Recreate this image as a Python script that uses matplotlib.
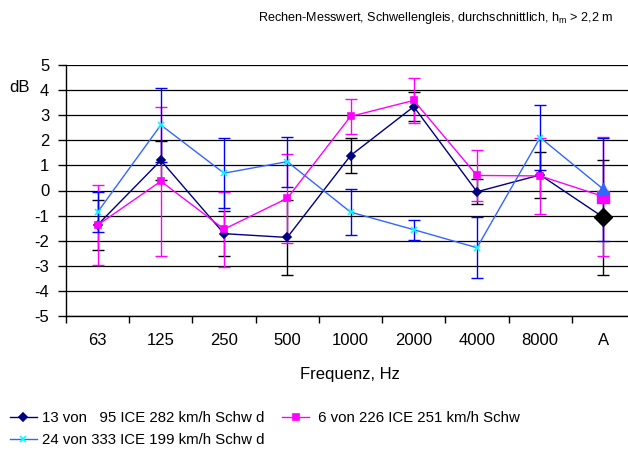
import numpy as np
import matplotlib
matplotlib.use('agg')
import matplotlib.pyplot as plt
from matplotlib.ticker import FixedLocator

plt.rcParams['font.family'] = ['Liberation Sans', 'DejaVu Sans']
plt.rcParams['font.size'] = 10
plt.rcParams['axes.unicode_minus'] = False

# frequency bands and the three measured series (mean and spread)
categories = ['63', '125', '250', '500', '1000', '2000', '4000', '8000', 'A']
ice282 = [-1.37, 1.2, -1.72, -1.87, 1.39, 3.34, -0.05, 0.62, -1.07]
ice282_err = [1.0, 0.79, 0.89, 1.49, 0.7, 0.57, 0.5, 0.91, 2.28]
ice251 = [-1.38, 0.37, -1.54, -0.31, 2.95, 3.59, 0.6, 0.58, -0.24]
ice251_err = [1.6, 2.97, 1.49, 1.78, 0.7, 0.9, 1.02, 1.51, 2.37]
ice199 = [-0.86, 2.61, 0.69, 1.15, -0.86, -1.56, -2.28, 2.11, 0.05]
ice199_err = [0.81, 1.48, 1.4, 1.0, 0.9, 0.4, 1.21, 1.31, 2.05]

labels = ['13 von   95 ICE 282 km/h Schw d',
          ' 6 von 226 ICE 251 km/h Schw',
          '24 von 333 ICE 199 km/h Schw d']

fig = plt.figure(figsize=(6.28, 4.53), dpi=100)
ax = fig.add_axes([66 / 628, 137 / 453, 569 / 628, 251 / 453])

x = np.arange(len(categories))
n = len(categories) - 1  # last point (A-weighted) gets a bigger marker

series = [
    # values, errors, line colour, marker, marker colour, err colour, big marker, big colour, size
    (ice282, ice282_err, '#000080', 'D', '#000080', 'black', 'D', 'black', 4.5),
    (ice251, ice251_err, '#FF00FF', 's', '#FF00FF', '#FF00FF', 's', '#FF00FF', 4.5),
    (ice199, ice199_err, '#3366FF', 'x', '#00FFFF', '#0000FF', '^', '#3366FF', 5),
]

handles = []
for vals, errs, lc, mk, mc, ec, bmk, bmc, ms in series:
    ax.errorbar(x, vals, yerr=errs, fmt='none', ecolor=ec, elinewidth=1,
                capsize=4, capthick=1, zorder=2)
    h, = ax.plot(x, vals, color=lc, lw=1, marker=mk, ms=ms, mfc=mc, mec=mc,
                 mew=1.2, markevery=list(range(n)), zorder=3)
    ax.plot(x[n], vals[n], marker=bmk, ms=9, mfc=bmc, mec=bmc, ls='none', zorder=4)
    handles.append(h)

ax.set_xlim(-0.5, len(categories) - 0.5)
ax.set_ylim(-5, 5)
ax.set_yticks(range(-5, 6))
ax.set_xticks(x)
ax.set_xticklabels(categories)
ax.xaxis.set_minor_locator(FixedLocator(np.arange(-0.5, len(categories), 1)))
ax.tick_params(axis='x', which='major', length=0, pad=12, labelsize=12)
ax.tick_params(axis='x', which='minor', length=5, width=1, direction='out')
ax.tick_params(axis='y', length=6, width=1, pad=6, labelsize=12)

ax.grid(axis='y', color='black', lw=0.9)
ax.set_axisbelow(True)
for s in ['top', 'right']:
    ax.spines[s].set_visible(False)
ax.spines['left'].set_linewidth(1)
ax.spines['bottom'].set_linewidth(1)

fig.text(20 / 628, 1 - 87 / 453, 'dB', ha='center', va='center', fontsize=12)
fig.text(350 / 628, 1 - 375 / 453, 'Frequenz, Hz', ha='center', va='center', fontsize=12)
fig.text(613 / 628, 1 - 18 / 453,
         'Rechen-Messwert, Schwellengleis, durchschnittlich, h$_\\mathregular{m}$ > 2,2 m',
         ha='right', va='center', fontsize=9.1)

fig.legend([handles[0], handles[2], handles[1]], [labels[0], labels[2], labels[1]],
           loc='upper left', bbox_to_anchor=(2 / 628, 1 - 404 / 453), ncol=2,
           frameon=False, borderpad=0, handlelength=1.8, handletextpad=0.35,
           columnspacing=1.2, labelspacing=0.5, fontsize=10.8)

fig.savefig('out.png', dpi=100)
